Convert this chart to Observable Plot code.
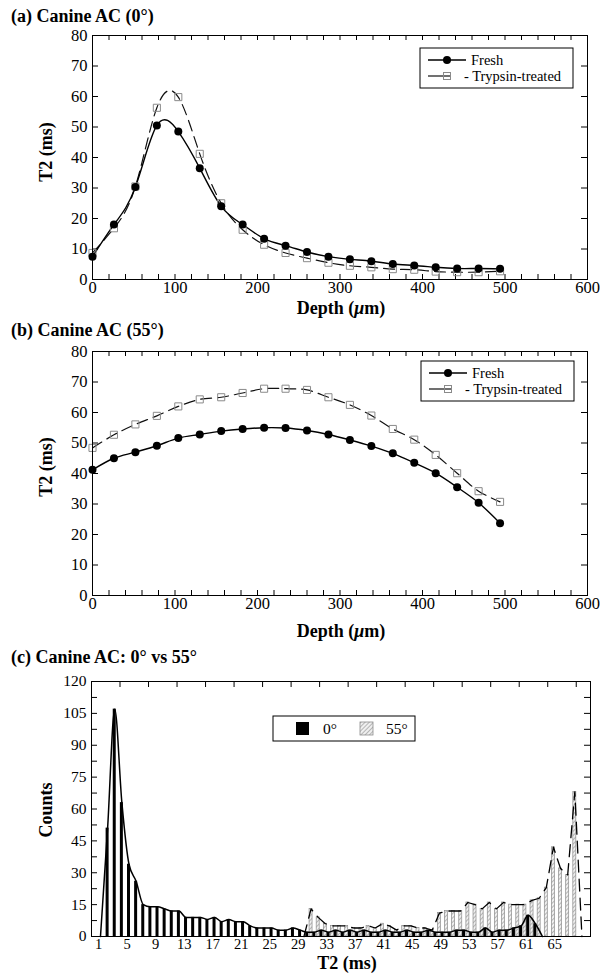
<!DOCTYPE html>
<html><head><meta charset="utf-8">
<script src="https://cdn.jsdelivr.net/npm/d3@7"></script>
<script src="https://cdn.jsdelivr.net/npm/@observablehq/plot@0.6"></script>
<style>
body{margin:0;background:#fff;}
#wrap{position:relative;width:604px;height:976px;font-family:"Liberation Serif","Times New Roman",serif;color:#000;overflow:hidden;background:#fff;}
.abs{position:absolute;white-space:nowrap;line-height:20px;}
.title{font-weight:bold;font-size:18px;}
.xlab{font-weight:bold;font-size:18px;line-height:16px;transform:translate(-50%,-50%);}
.ylab{font-weight:bold;font-size:18px;line-height:16px;transform:translate(-50%,-50%) rotate(-90deg);}
</style></head>
<body><div id="wrap"></div>
<script>
// ---- Data: panels (a) and (b) ----
const depth     = [0, 26, 52, 78, 104, 130, 156, 182, 208, 234, 260, 286, 312, 338, 364, 390, 416, 442, 468, 494];
const freshA    = [7.5, 18.0, 30.3, 50.5, 48.5, 36.5, 24.0, 18.0, 13.4, 11.1, 9.0, 7.5, 6.6, 6.0, 5.1, 4.6, 4.0, 3.6, 3.6, 3.5];
const trypsinA  = [8.7, 16.8, 30.5, 56.3, 59.8, 41.2, 25.0, 16.3, 11.4, 8.7, 7.0, 5.5, 4.5, 4.0, 3.4, 3.2, 2.6, 2.4, 2.4, 2.7];
const freshB    = [41.2, 45.0, 47.0, 49.1, 51.6, 52.8, 53.9, 54.6, 55.0, 54.9, 54.1, 52.8, 51.0, 49.0, 46.6, 43.5, 40.1, 35.5, 30.4, 23.7];
const trypsinB  = [48.4, 52.7, 56.1, 58.9, 62.0, 64.3, 65.0, 66.4, 67.8, 67.8, 67.4, 65.0, 62.5, 59.0, 54.6, 51.1, 46.1, 40.1, 34.2, 30.7];
const xTicksAB  = [0, 100, 200, 300, 400, 500, 600];
const xMinorAB  = [0,20,40,60,80,100,120,140,160,180,200,220,240,260,280,300,320,340,360,380,400,420,440,460,480,500,520,540,560,580,600];
const yTicksAB  = [0, 10, 20, 30, 40, 50, 60, 70, 80];

// ---- Data: panel (c) histogram ----
const t2Bins0  = [1,2,3,4,5,6,7,8,9,10,11,12,13,14,15,16,17,18,19,20,21,22,23,24,25,26,27,28,29,30,31,32,33,34,35,36,37,38,39,40,41,42,43,44,45,46,47,48,49,50,51,52,53,54,55,56,57,58,59,60,61,62,63];
const counts0  = [0,51,107,63,34,26,15,14,14,13,12,12,9,9,9,8,9,7,8,7,7,5,4,4,4,3,3,4,3,2,2,3,2,3,2,3,2,3,2,2,3,2,2,3,2,2,3,2,2,2,3,3,2,2,4,2,3,3,4,5,10,6,0];
const t2Bins55 = [30,31,32,33,34,35,36,37,38,39,40,41,42,43,44,45,46,47,48,49,50,51,52,53,54,55,56,57,58,59,60,61,62,63,64,65,66,67,68,69];
const counts55 = [0,13,9,6,5,5,5,4,4,5,4,6,5,3,5,5,4,4,3,11,12,12,12,16,15,13,16,13,16,15,15,15,17,18,23,42,32,29,68,0];
const xTicksC  = [1,5,9,13,17,21,25,29,33,37,41,45,49,53,57,61,65];
const xTopC    = [4,8,12,16,20,24,28,32,36,40,44,48,52,56,60,64,68];
const yTicksC  = [0,15,30,45,60,75,90,105,120];
const yMinorC  = [0,7.5,15,22.5,30,37.5,45,52.5,60,67.5,75,82.5,90,97.5,105,112.5,120];

const FONT = '"Liberation Serif","Times New Roman",serif';
const wrap = document.getElementById("wrap");

function place(el, top) {
  el.style.position = "absolute"; el.style.left = "0px"; el.style.top = top + "px";
  wrap.appendChild(el);
}

function linePanel(fresh, tryp, curve) {
  const rowsF = depth.map((d, i) => ({depth: d, t2: fresh[i]}));
  const rowsT = depth.map((d, i) => ({depth: d, t2: tryp[i]}));
  const W = 604, H = 300, mt = 35, mb = 21, ml = 92, mr = 17;
  const pw = W - ml - mr, ph = H - mt - mb;
  return Plot.plot({
    width: W, height: H, marginTop: mt, marginBottom: mb, marginLeft: ml, marginRight: mr,
    style: {fontFamily: FONT, fontSize: "16px", background: "transparent", color: "black", overflow: "visible"},
    x: {domain: [0, 600]}, y: {domain: [0, 80]},
    marks: [
      Plot.tickX(xMinorAB, {x: d => d, insetTop: ph - 5, stroke: "black"}),
      Plot.tickX(xMinorAB, {x: d => d, insetBottom: ph - 5, stroke: "black"}),
      Plot.tickY(yTicksAB, {y: d => d, insetRight: pw - 6, stroke: "black"}),
      Plot.tickY(yTicksAB, {y: d => d, insetLeft: pw - 6, stroke: "black"}),
      Plot.axisX({ticks: xTicksAB, tickSize: 0, tickPadding: 2, label: null, fontSize: 16.5}),
      Plot.axisY({ticks: yTicksAB, tickSize: 0, tickPadding: 5, label: null, fontSize: 16.5}),
      Plot.line(rowsT, {x: "depth", y: "t2", curve, stroke: "#111", strokeWidth: 1.2, strokeDasharray: "11,6"}),
      Plot.line(rowsF, {x: "depth", y: "t2", curve, stroke: "black", strokeWidth: 1.4}),
      Plot.dot(rowsT, {x: "depth", y: "t2", symbol: "square", r: 4, stroke: "#8a8a8a", fill: "none", strokeWidth: 1}),
      Plot.dot(rowsF, {x: "depth", y: "t2", r: 4, fill: "black", stroke: "none"}),
      Plot.frame({stroke: "black", strokeWidth: 1})
    ]
  });
}

place(linePanel(freshA, trypsinA, "natural"), 0);
place(linePanel(freshB, trypsinB, "catmull-rom"), 316);

// Panel (c)
(function () {
  const rows0 = t2Bins0.map((t, i) => ({t, c: counts0[i]}));
  const rows55 = t2Bins55.map((t, i) => ({t, c: counts55[i]}));
  const W = 604, H = 336, mt = 41, mb = 40, ml = 91, mr = 14;
  const pw = W - ml - mr, ph = H - mt - mb;
  const svg = Plot.plot({
    width: W, height: H, marginTop: mt, marginBottom: mb, marginLeft: ml, marginRight: mr,
    style: {fontFamily: FONT, fontSize: "15px", background: "transparent", color: "black", overflow: "visible"},
    x: {domain: [0, 70]}, y: {domain: [0, 120]},
    marks: [
      Plot.tickX(xTopC, {x: d => d, insetBottom: ph - 6, stroke: "black"}),
      Plot.tickY(yMinorC, {y: d => d, insetRight: pw - 6, stroke: "black"}),
      Plot.tickY(yMinorC, {y: d => d, insetLeft: pw - 6, stroke: "black"}),
      Plot.axisX({ticks: xTicksC, tickSize: 0, tickPadding: 2, label: null, fontSize: 14.5}),
      Plot.axisY({ticks: yTicksC, tickSize: 0, tickPadding: 5, label: null, fontSize: 15.5}),
      Plot.rectY(rows55, {x1: d => d.t - 0.41, x2: d => d.t + 0.01, y1: 0, y2: "c", fill: "url(#hatch55)", stroke: "#8c8c8c", strokeWidth: 0.7}),
      Plot.rectY(rows0, {x1: d => d.t + 0.05, x2: d => d.t + 0.47, y1: 0, y2: "c", fill: "black"}),
      Plot.line(rows55, {x: d => d.t - 0.2, y: "c", stroke: "black", strokeWidth: 1.3, strokeDasharray: "12,7"}),
      Plot.line(rows0, {x: d => d.t + 0.26, y: "c", stroke: "black", strokeWidth: 1.5, curve: "monotone-x"}),
      Plot.frame({stroke: "black", strokeWidth: 1})
    ]
  });
  const defs = d3.select(svg).insert("defs", ":first-child");
  const pat = defs.append("pattern").attr("id", "hatch55").attr("patternUnits", "userSpaceOnUse")
    .attr("width", 3).attr("height", 3).attr("patternTransform", "rotate(45)");
  pat.append("rect").attr("width", 3).attr("height", 3).attr("fill", "#f0f0f0");
  pat.append("line").attr("x1", 0).attr("y1", 0).attr("x2", 0).attr("y2", 3).attr("stroke", "#7a7a7a").attr("stroke-width", 1);
  place(svg, 640);
})();

// Text labels
function label(cls, text, x, y) {
  const d = document.createElement("div");
  d.className = "abs " + cls;
  d.innerHTML = text;
  if (cls === "title") { d.style.left = x + "px"; d.style.top = (y - 10) + "px"; }
  else { d.style.left = x + "px"; d.style.top = y + "px"; }
  wrap.appendChild(d);
}
label("title", "(a) Canine AC (0°)", 11, 16);
label("title", "(b) Canine AC (55°)", 11, 330);
label("title", "(c) Canine AC: 0° vs 55°", 11, 657);
label("ylab", "T2 (ms)", 46, 152);
label("ylab", "T2 (ms)", 46, 467);
label("ylab", "Counts", 46, 810);
label("xlab", "Depth (<i>μ</i>m)", 341, 308);
label("xlab", "Depth (<i>μ</i>m)", 341, 631);
label("xlab", "T2 (ms)", 347, 963);

// Legends overlay
const ov = d3.select(wrap).append("svg").attr("width", 604).attr("height", 976)
  .style("position", "absolute").style("left", "0px").style("top", "0px").style("pointer-events", "none")
  .style("font-family", FONT);

function lineLegend(bx, by) {
  const g = ov.append("g").attr("transform", `translate(${bx},${by})`);
  g.append("rect").attr("width", 153).attr("height", 40).attr("fill", "white").attr("stroke", "black").attr("stroke-width", 1);
  g.append("line").attr("x1", 8).attr("x2", 46).attr("y1", 12).attr("y2", 12).attr("stroke", "black").attr("stroke-width", 1.3);
  g.append("circle").attr("cx", 27).attr("cy", 12).attr("r", 4).attr("fill", "black");
  g.append("text").attr("x", 51).attr("y", 12).attr("dy", "0.35em").attr("font-size", 14.5).text("Fresh");
  g.append("line").attr("x1", 8).attr("x2", 31).attr("y1", 28).attr("y2", 28).attr("stroke", "#111").attr("stroke-width", 1.2);
  g.append("rect").attr("x", 23.5).attr("y", 24.5).attr("width", 7).attr("height", 7).attr("fill", "none").attr("stroke", "#8a8a8a");
  g.append("text").attr("x", 44).attr("y", 28).attr("dy", "0.35em").attr("font-size", 14.5).text("- Trypsin-treated");
}
lineLegend(420, 48);
lineLegend(421, 361);

(function () {
  const g = ov.append("g").attr("transform", "translate(273,716)");
  g.append("rect").attr("width", 142).attr("height", 25).attr("fill", "white").attr("stroke", "black").attr("stroke-width", 1);
  g.append("rect").attr("x", 23).attr("y", 6).attr("width", 13).attr("height", 13).attr("fill", "black");
  g.append("text").attr("x", 50).attr("y", 12.5).attr("dy", "0.35em").attr("font-size", 15.5).text("0°");
  g.append("rect").attr("x", 87).attr("y", 6).attr("width", 13).attr("height", 13).attr("fill", "url(#hatch55)").attr("stroke", "#8c8c8c").attr("stroke-width", 0.8);
  g.append("text").attr("x", 113).attr("y", 12.5).attr("dy", "0.35em").attr("font-size", 15.5).text("55°");
})();
</script></body></html>
